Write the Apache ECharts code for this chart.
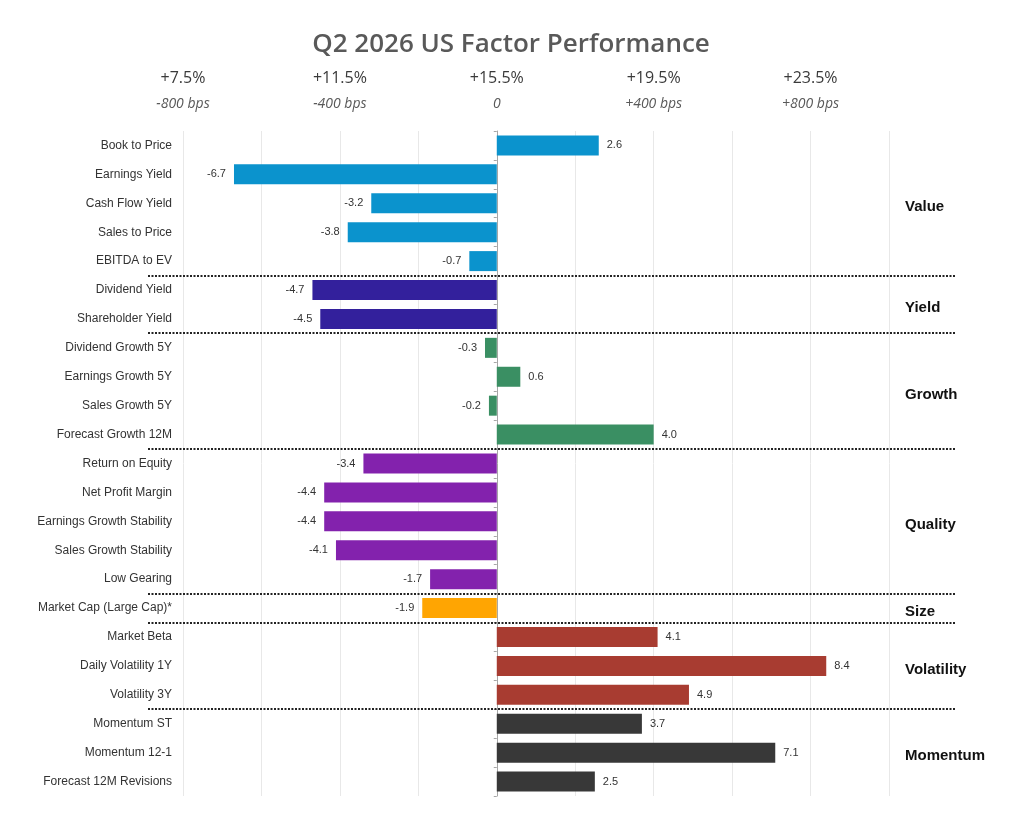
<!DOCTYPE html>
<html>
<head>
<meta charset="utf-8">
<title>Q2 2026 US Factor Performance</title>
<script src="https://cdn.jsdelivr.net/npm/echarts@6/dist/echarts.min.js"></script>
<style>
    html, body { margin: 0; padding: 0; background: #fff; }
    #main { width: 1020px; height: 830px; }
</style>
</head>
<body>
<div id="main"></div>
<script>
// 因子名称（从上到下）
var categories = [
    'Book to Price', 'Earnings Yield', 'Cash Flow Yield', 'Sales to Price', 'EBITDA to EV',
    'Dividend Yield', 'Shareholder Yield',
    'Dividend Growth 5Y', 'Earnings Growth 5Y', 'Sales Growth 5Y', 'Forecast Growth 12M',
    'Return on Equity', 'Net Profit Margin', 'Earnings Growth Stability', 'Sales Growth Stability', 'Low Gearing',
    'Market Cap (Large Cap)*',
    'Market Beta', 'Daily Volatility 1Y', 'Volatility 3Y',
    'Momentum ST', 'Momentum 12-1', 'Forecast 12M Revisions'
];
var values = [
    2.6, -6.7, -3.2, -3.8, -0.7,
    -4.7, -4.5,
    -0.3, 0.6, -0.2, 4.0,
    -3.4, -4.4, -4.4, -4.1, -1.7,
    -1.9,
    4.1, 8.4, 4.9,
    3.7, 7.1, 2.5
];
// 分组
var groupNames = ['Value', 'Yield', 'Growth', 'Quality', 'Size', 'Volatility', 'Momentum'];
var groupSizes = [5, 2, 4, 5, 1, 3, 3];
var groupColors = ['#0b93cd', '#33209c', '#3a8f63', '#8322ad', '#ffa502', '#a83c31', '#383838'];
// 顶部刻度
var topTickValues = [-8, -4, 0, 4, 8];
var topTickPct = ['+7.5%', '+11.5%', '+15.5%', '+19.5%', '+23.5%'];
var topTickBps = ['-800 bps', '-400 bps', '0', '+400 bps', '+800 bps'];

var gridLeft = 183, gridRight = 889, gridTop = 131, gridBottom = 796;

var myChart = echarts.init(document.getElementById('main'));

// 每个因子对应的分组颜色
var barData = [];
var g = 0, cnt = 0;
for (var i = 0; i < values.length; i++) {
    if (cnt >= groupSizes[g]) { g++; cnt = 0; }
    cnt++;
    barData.push({
        value: values[i],
        itemStyle: { color: groupColors[g] },
        label: { position: values[i] >= 0 ? 'right' : 'left' }
    });
}

myChart.setOption({
    animation: false,
    title: {
        text: 'Q2 2026 US Factor Performance',
        left: 506,
        top: 27,
        textAlign: 'center',
        textStyle: {
            fontFamily: 'Open Sans',
            fontWeight: 600,
            fontSize: 26,
            color: '#595959'
        }
    },
    grid: {
        left: gridLeft,
        top: gridTop,
        width: gridRight - gridLeft,
        height: gridBottom - gridTop
    },
    xAxis: [
        {
            type: 'value',
            min: -8,
            max: 10,
            interval: 2,
            axisLine: { show: false },
            axisTick: { show: false },
            axisLabel: { show: false },
            splitLine: { lineStyle: { color: '#e8e8e8', width: 1 } }
        },
        {
            type: 'value',
            position: 'top',
            min: -8,
            max: 10,
            interval: 4,
            axisLine: { show: false },
            axisTick: { show: false },
            splitLine: { show: false },
            axisLabel: {
                margin: 15,
                formatter: function (v) {
                    var k = topTickValues.indexOf(v);
                    if (k < 0) return '';
                    return '{a|' + topTickPct[k] + '}\n{b|' + topTickBps[k] + '}';
                },
                rich: {
                    a: { fontFamily: 'Open Sans', fontSize: 16, fontWeight: 500, color: '#3a3a3a', lineHeight: 27 },
                    b: { fontFamily: 'Open Sans', fontSize: 14, fontStyle: 'italic', color: '#595959', lineHeight: 24 }
                }
            }
        }
    ],
    yAxis: [
        {
            type: 'category',
            inverse: true,
            data: categories,
            axisLine: { show: false, onZero: false },
            axisTick: { show: false },
            axisLabel: {
                margin: 11,
                fontFamily: 'Liberation Sans',
                fontSize: 12,
                color: '#333'
            }
        },
        {
            type: 'category',
            inverse: true,
            data: categories,
            position: 'left',
            axisLine: { show: true, onZero: true, lineStyle: { color: '#a6a6a6', width: 1 } },
            axisTick: { show: true, length: 3, lineStyle: { color: '#a6a6a6' } },
            axisLabel: { show: false }
        }
    ],
    series: [
        {
            name: 'Factor',
            type: 'bar',
            barWidth: 20,
            data: barData,
            z: 3,
            label: {
                show: true,
                distance: 8,
                fontFamily: 'Liberation Sans',
                fontSize: 11,
                color: '#333',
                formatter: function (p) {
                    return p.value.toFixed(1);
                }
            }
        }
    ]
});

// 分组分隔线和分组名称
var graphics = [];
var start = 0;
function rowY(idx) {
    return myChart.convertToPixel({ yAxisIndex: 0 }, idx);
}
for (var k = 0; k < groupNames.length; k++) {
    var end = start + groupSizes[k] - 1;
    var midY = (rowY(start) + rowY(end)) / 2;
    graphics.push({
        type: 'text',
        left: gridRight + 16,
        top: midY - 4,
        style: {
            text: groupNames[k],
            fontFamily: 'Liberation Sans',
            fontWeight: 'bold',
            fontSize: 15,
            fill: '#111'
        }
    });
    if (k < groupNames.length - 1) {
        var sepY = Math.round((rowY(end) + rowY(end + 1)) / 2);
        graphics.push({
            type: 'line',
            shape: { x1: gridLeft - 35, y1: sepY, x2: gridRight + 67, y2: sepY },
            style: { stroke: '#222', lineWidth: 2, lineDash: [2, 1.5] },
            z: 10
        });
    }
    start = end + 1;
}
myChart.setOption({ graphic: graphics });
</script>
</body>
</html>
